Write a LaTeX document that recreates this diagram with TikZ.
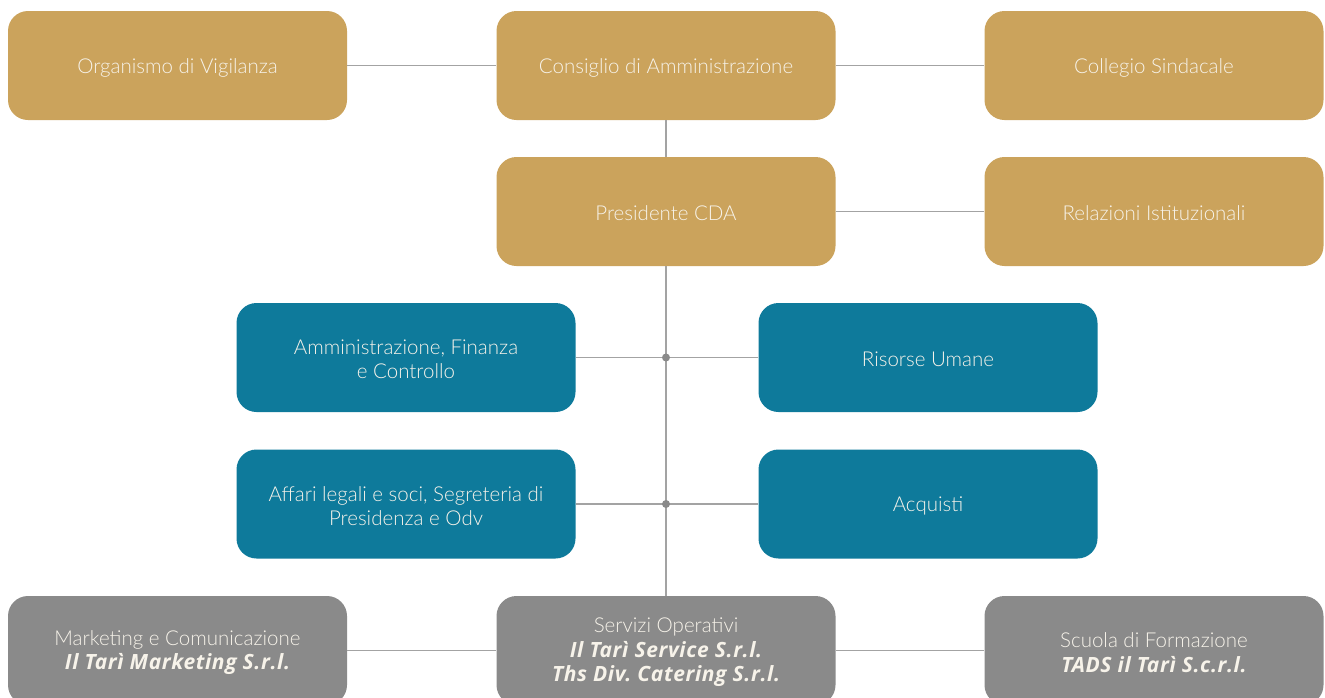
\documentclass[tikz,border=0pt]{standalone}
\usepackage{fontspec}
\setmainfont{Lato Light}[BoldItalicFont={Lato Bold Italic}]
\newfontfamily\bifamily{Open Sans}[LetterSpace=3]
\newcommand{\bis}[1]{{\bifamily\bfseries\itshape\fontsize{21}{24.5}\selectfont #1}}
\frenchspacing
\definecolor{gold}{HTML}{CBA35C}
\definecolor{teal}{HTML}{0E7A9B}
\definecolor{grey}{HTML}{8A8A8A}
\definecolor{linec}{HTML}{A3A3A3}
\definecolor{txt}{HTML}{F7F3EA}
\tikzset{
  box/.style={rounded corners=20pt, minimum width=339pt, minimum height=109pt, inner sep=0pt},
  goldbox/.style={box, fill=gold},
  tealbox/.style={box, fill=teal},
  greybox/.style={box, fill=grey},
  conn/.style={draw=linec, line width=1.2pt},
  jdot/.style={circle, fill=grey, inner sep=0pt, minimum size=8pt},
  lbl/.style={text=txt, align=center, font=\fontsize{20.5}{24.5}\selectfont, inner sep=0pt, yshift=-2pt}
}
\begin{document}
\begin{tikzpicture}[x=1pt,y=-1pt]
\useasboundingbox (0,0) rectangle (1325,697);
\clip (0,0) rectangle (1325,697);
% boxes
\node[goldbox] (org) at (177.5,65.5) {};
\node[goldbox] (cda) at (666,65.5) {};
\node[goldbox] (coll) at (1154,65.5) {};
\node[goldbox] (pres) at (666,211.5) {};
\node[goldbox] (rel) at (1154,211.5) {};
\node[tealbox] (amm) at (406,357.5) {};
\node[tealbox] (ris) at (928,357.5) {};
\node[tealbox] (aff) at (406,504) {};
\node[tealbox] (acq) at (928,504) {};
\node[greybox] (mkt) at (177.5,650.5) {};
\node[greybox] (serv) at (666,650.5) {};
\node[greybox] (scu) at (1154,650.5) {};
% labels
\node[lbl] (torg) at (org) {Organismo di Vigilanza};
\node[lbl] (tcda) at (cda) {Consiglio di Amministrazione};
\node[lbl] (tcoll) at (coll) {Collegio Sindacale};
\node[lbl] (tpres) at (pres) {Presidente CDA};
\node[lbl] (trel) at (rel) {Relazioni Istituzionali};
\node[lbl] (tamm) at (amm) {Amministrazione, Finanza\\e Controllo};
\node[lbl] (tris) at (ris) {Risorse Umane};
\node[lbl] (taff) at (aff) {Affari legali e soci, Segreteria di\\Presidenza e Odv};
\node[lbl] (tacq) at (acq) {Acquisti};
\node[lbl] (tmkt) at (mkt) {Marketing e Comunicazione\\\bis{Il Tarì Marketing S.r.l.}};
\node[lbl] (tserv) at (serv) {Servizi Operativi\\\bis{Il Tarì Service S.r.l.}\\\bis{Ths Div. Catering S.r.l.}};
\node[lbl] (tscu) at (scu) {Scuola di Formazione\\\bis{TADS il Tarì S.c.r.l.}};
\coordinate (j1) at (666,357.5);
\coordinate (j2) at (666,504);
% connectors
\path[conn] (org) -- (cda);
\path[conn] (cda) -- (coll);
\path[conn] (cda) -- (pres);
\path[conn] (pres) -- (rel);
\path[conn] (pres) -- (serv);
\path[conn] (amm) -- (j1) -- (ris);
\path[conn] (aff) -- (j2) -- (acq);
\path[conn] (mkt) -- (serv);
\path[conn] (serv) -- (scu);
\node[jdot] (d1) at (j1) {};
\node[jdot] (d2) at (j2) {};
\end{tikzpicture}
\end{document}
